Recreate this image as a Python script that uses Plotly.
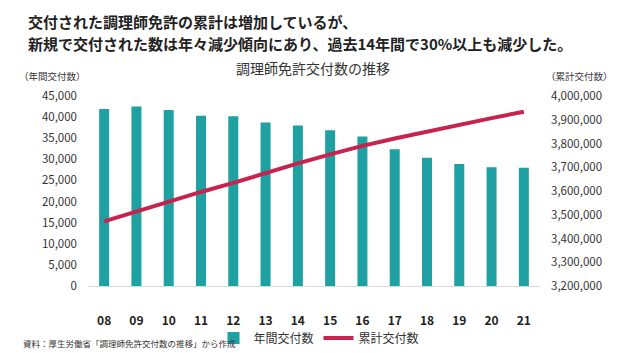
import plotly.graph_objects as go

years = ["08", "09", "10", "11", "12", "13", "14", "15", "16", "17", "18", "19", "20", "21"]
annual = [41900, 42500, 41700, 40300, 40200, 38700, 38000, 36900, 35400, 32400, 30400, 28900, 28100, 28000]
cumulative = [3472000, 3514000, 3556000, 3596000, 3634000, 3677000, 3716000, 3754000, 3790000,
              3821000, 3851000, 3880000, 3907000, 3934000]

left_ticks = list(range(0, 45001, 5000))
right_ticks = list(range(3200000, 4000001, 100000))

FONT = "Noto Sans CJK JP"
BAR_COLOR = "#1FA0A3"
LINE_COLOR = "#C8224E"

fig = go.Figure()
fig.add_trace(go.Bar(x=years, y=annual, name="年間交付数", marker=dict(color=BAR_COLOR, line=dict(width=0)),
                     yaxis="y"))
fig.add_trace(go.Scatter(x=years, y=cumulative, name="累計交付数", mode="lines",
                         line=dict(color=LINE_COLOR, width=4), yaxis="y2"))

W, H = 620, 353
L, R, T, B = 88, 80, 96, 67
pw, ph = W - L - R, H - T - B


def px(x):
    return (x - L) / pw


def py(y):
    return (H - B - y) / ph


fig.update_layout(
    width=W, height=H,
    margin=dict(l=L, r=R, t=T, b=B, autoexpand=False),
    paper_bgcolor="white", plot_bgcolor="white",
    font=dict(family=FONT, color="#333333", size=11),
    bargap=0.69,
    showlegend=True,
    legend=dict(orientation="h", x=px(319), xanchor="center", y=py(338), yanchor="middle",
                font=dict(size=12, color="#333333"), itemwidth=30, bgcolor="rgba(0,0,0,0)",
                traceorder="normal", tracegroupgap=0),
    xaxis=dict(type="category", showgrid=False, zeroline=False, showline=True, linecolor="#D9D9D9",
               linewidth=1, ticks="", tickfont=dict(size=12, color="#222222", family=FONT, weight="bold"),
               ticklabelstandoff=24),
    yaxis=dict(range=[0, 45000], tickvals=left_ticks, tickformat=",d", showgrid=False, zeroline=False,
               showline=False, ticks="", tickfont=dict(size=11.5, color="#333333"), ticklabelstandoff=10),
    yaxis2=dict(range=[3200000, 4000000], tickvals=right_ticks, tickformat=",d", overlaying="y",
                side="right", showgrid=False, zeroline=False, showline=False, ticks="",
                tickfont=dict(size=11.5, color="#333333"), ticklabelstandoff=10),
)

annos = [
    dict(text="<b>交付された調理師免許の累計は増加しているが、</b>", x=px(26), y=py(21.7), xanchor="left",
         yanchor="middle", font=dict(size=15, color="#222222")),
    dict(text="<b>新規で交付された数は年々減少傾向にあり、過去14年間で30%以上も減少した。</b>", x=px(26), y=py(43.3),
         xanchor="left", yanchor="middle", font=dict(size=15, color="#222222")),
    dict(text="調理師免許交付数の推移", x=px(312.5), y=py(68.3), xanchor="center", yanchor="middle",
         font=dict(size=14, color="#333333")),
    dict(text="（年間交付数）", x=px(52.5), y=py(76), xanchor="center", yanchor="middle",
         font=dict(size=9.5, color="#333333")),
    dict(text="（累計交付数）", x=px(579.5), y=py(76), xanchor="center", yanchor="middle",
         font=dict(size=9.5, color="#333333")),
    dict(text="資料：厚生労働省「調理師免許交付数の推移」から作成", x=px(21), y=py(343), xanchor="left",
         yanchor="middle", font=dict(size=8.5, color="#333333")),
]
for a in annos:
    a.update(xref="paper", yref="paper", showarrow=False)
    fig.add_annotation(**a)

fig.write_html("out.html")
